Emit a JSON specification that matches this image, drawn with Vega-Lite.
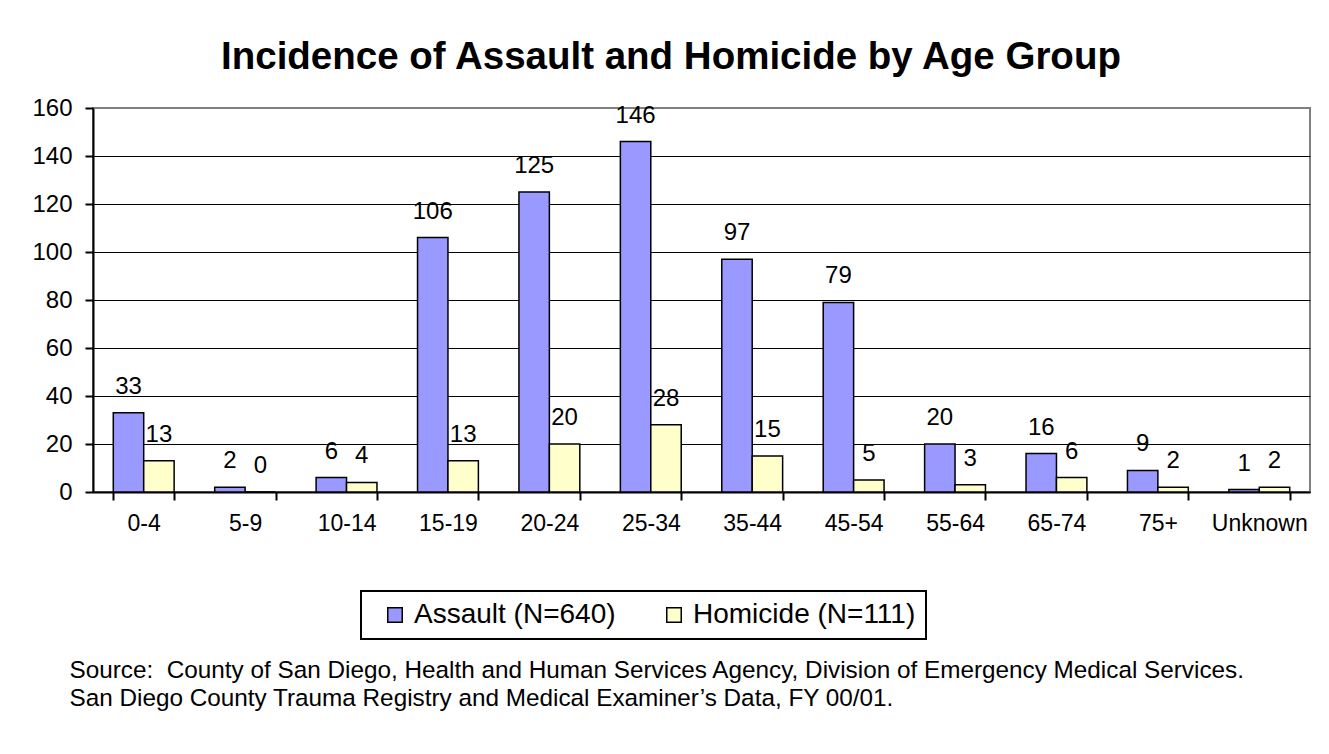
{
  "$schema": "https://vega.github.io/schema/vega-lite/v6.json",
  "width": 1217,
  "height": 384,
  "autosize": {"type": "none"},
  "padding": {"left": 93, "top": 108, "right": 19, "bottom": 262},
  "background": "white",
  "title": {
    "text": "Incidence of Assault and Homicide by Age Group",
    "font": "Liberation Sans",
    "fontSize": 38.5,
    "fontWeight": "bold",
    "color": "black",
    "anchor": "middle",
    "frame": "bounds",
    "baseline": "alphabetic",
    "offset": 26,
    "dy": 37
  },
  "data": {
    "values": [
      {"age": "0-4", "series": "Assault (N=640)", "count": 33},
      {"age": "0-4", "series": "Homicide (N=111)", "count": 13},
      {"age": "5-9", "series": "Assault (N=640)", "count": 2},
      {"age": "5-9", "series": "Homicide (N=111)", "count": 0},
      {"age": "10-14", "series": "Assault (N=640)", "count": 6},
      {"age": "10-14", "series": "Homicide (N=111)", "count": 4},
      {"age": "15-19", "series": "Assault (N=640)", "count": 106},
      {"age": "15-19", "series": "Homicide (N=111)", "count": 13},
      {"age": "20-24", "series": "Assault (N=640)", "count": 125},
      {"age": "20-24", "series": "Homicide (N=111)", "count": 20},
      {"age": "25-34", "series": "Assault (N=640)", "count": 146},
      {"age": "25-34", "series": "Homicide (N=111)", "count": 28},
      {"age": "35-44", "series": "Assault (N=640)", "count": 97},
      {"age": "35-44", "series": "Homicide (N=111)", "count": 15},
      {"age": "45-54", "series": "Assault (N=640)", "count": 79},
      {"age": "45-54", "series": "Homicide (N=111)", "count": 5},
      {"age": "55-64", "series": "Assault (N=640)", "count": 20},
      {"age": "55-64", "series": "Homicide (N=111)", "count": 3},
      {"age": "65-74", "series": "Assault (N=640)", "count": 16},
      {"age": "65-74", "series": "Homicide (N=111)", "count": 6},
      {"age": "75+", "series": "Assault (N=640)", "count": 9},
      {"age": "75+", "series": "Homicide (N=111)", "count": 2},
      {"age": "Unknown", "series": "Assault (N=640)", "count": 1},
      {"age": "Unknown", "series": "Homicide (N=111)", "count": 2}
    ]
  },
  "encoding": {
    "x": {
      "field": "age",
      "type": "nominal",
      "sort": null,
      "scale": {"paddingInner": 0.4, "paddingOuter": 0.2},
      "axis": {
        "title": ["Source:\u00a0 County of San Diego, Health and Human Services Agency, Division of Emergency Medical Services.", "San Diego County Trauma Registry and Medical Examiner\u2019s Data, FY 00/01."],
        "titleFont": "Liberation Sans",
        "titleFontSize": 24.3,
        "titleFontWeight": "normal",
        "titleColor": "black",
        "titleAlign": "left",
        "titleAnchor": "start",
        "titleBaseline": "alphabetic",
        "titleLineHeight": 28,
        "titleX": -24,
        "titleY": 185,
        "labelAngle": 0,
        "labelFont": "Liberation Sans",
        "labelFontSize": 23,
        "labelColor": "black",
        "labelBaseline": "alphabetic",
        "labelPadding": 30,
        "tickBand": "extent",
        "tickColor": "black",
        "tickSize": 8,
        "tickWidth": 2,
        "domainColor": "black",
        "domainWidth": 2,
        "grid": false
      }
    },
    "y": {
      "field": "count",
      "type": "quantitative",
      "scale": {"domain": [0, 160], "nice": false},
      "axis": {
        "title": null,
        "values": [0, 20, 40, 60, 80, 100, 120, 140, 160],
        "labelFont": "Liberation Sans",
        "labelFontSize": 24,
        "labelColor": "black",
        "labelPadding": 13,
        "tickColor": "black",
        "tickSize": 8,
        "tickWidth": 2,
        "domainColor": "black",
        "domainWidth": 2,
        "grid": true,
        "gridColor": {"condition": {"test": "datum.value === 160", "value": "#808080"}, "value": "black"},
        "gridWidth": 1,
        "gridOpacity": 1
      }
    },
    "xOffset": {"field": "series", "type": "nominal", "scale": {"paddingInner": 0, "paddingOuter": 0}}
  },
  "layer": [
    {
      "mark": {"type": "bar", "stroke": "black", "strokeWidth": 1.5},
      "encoding": {
        "color": {
          "field": "series",
          "type": "nominal",
          "scale": {"domain": ["Assault (N=640)", "Homicide (N=111)"], "range": ["#9999FF", "#FFFFCC"]},
          "legend": {
            "title": null,
            "orient": "none",
            "legendX": 268,
            "legendY": 483,
            "direction": "horizontal",
            "strokeColor": "black",
            "fillColor": "white",
            "padding": 10,
            "symbolType": "square",
            "symbolSize": 210,
            "symbolOffset": 10,
            "symbolStrokeColor": "black",
            "symbolStrokeWidth": 1.5,
            "symbolOpacity": 1,
            "labelFont": "Liberation Sans",
            "labelFontSize": 28,
            "labelColor": "black",
            "labelOffset": 5,
            "labelLimit": 400,
            "columnPadding": 34
          }
        }
      }
    },
    {
      "mark": {"type": "text", "baseline": "alphabetic", "dy": -19, "font": "Liberation Sans", "fontSize": 24, "color": "black"},
      "encoding": {
        "text": {"field": "count", "type": "quantitative"}
      }
    }
  ],
  "config": {
    "view": {"stroke": "#808080", "strokeWidth": 2},
    "legend": {"strokeWidth": 2}
  }
}
